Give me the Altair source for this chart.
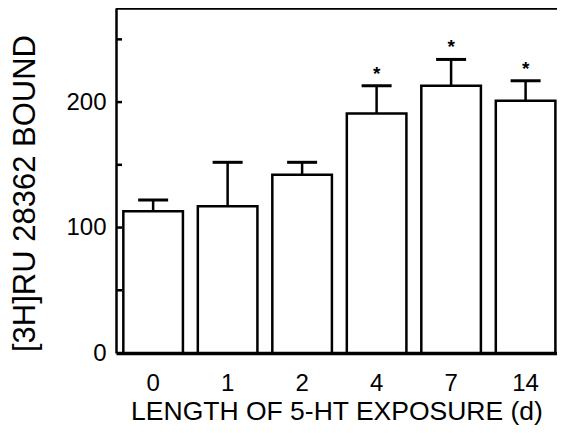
import altair as alt
import pandas as pd

# Data
days = ["0", "1", "2", "4", "7", "14"]
mean_bound = [113, 117, 142, 191, 213, 201]
sem_bound = [9, 35, 10, 22, 21, 16]
significant = [False, False, False, True, True, True]
minor_ticks = [50, 100, 150, 200, 250]
y_labels = [0, 100, 200]

df = pd.DataFrame({"day": days, "mean": mean_bound, "sem": sem_bound, "sig": significant})
df["upper"] = df["mean"] + df["sem"]
df["star"] = ["*" if s else "" for s in significant]
ticks_df = pd.DataFrame({"v": minor_ticks})

FONT = "Liberation Sans"
W, H = 441, 345
yscale = alt.Scale(domain=[0, 275], nice=False, zero=True)
xscale = alt.Scale(domain=days, paddingInner=0.2, paddingOuter=0.06, align=0.82)

x_axis = alt.Axis(
    title="LENGTH OF 5-HT EXPOSURE (d)", labelAngle=0, ticks=False, tickSize=0,
    labelPadding=18, labelFontSize=24, titleFontSize=26.5, titlePadding=3,
    domainWidth=3.5, domainColor="black", labelColor="black", titleColor="black",
    labelFont=FONT, titleFont=FONT, titleFontWeight="normal", grid=False,
)
y_axis = alt.Axis(
    title="[3H]RU 28362 BOUND", values=y_labels, ticks=False, tickSize=0,
    labelPadding=10, grid=False, labelFontSize=24, titleFontSize=31,
    labelFont=FONT, titleFont=FONT, titleFontWeight="normal",
    labelColor="black", titleColor="black", domainColor="black", domainWidth=2.5,
    titleX=-91, titleY=185, titleBaseline="middle", titleAlign="center",
)


def X():
    return alt.X("day:N", sort=days, scale=xscale, axis=x_axis)


def Y(field):
    return alt.Y(field, scale=yscale, axis=y_axis)


base = alt.Chart(df)

bars = base.mark_bar(fill="white", stroke="black", strokeWidth=2.5).encode(
    x=X(), y=Y("mean:Q"),
)

stems = base.mark_rule(color="black", strokeWidth=2.5).encode(
    x=X(), y=Y("mean:Q"), y2="upper:Q",
)

caps = base.mark_tick(color="black", size=30, thickness=3, opacity=1).encode(
    x=X(), y=Y("upper:Q"),
)

stars = base.transform_filter("datum.sig").mark_text(
    fontSize=19, fontWeight="bold", baseline="alphabetic", dy=-6, color="black", font=FONT
).encode(
    x=X(), y=Y("upper:Q"), text="star:N",
)

yticks = alt.Chart(ticks_df).mark_rule(color="black", strokeWidth=2.5).encode(
    y=Y("v:Q"),
    x=alt.value(0),
    x2=alt.value(6),
)

# top border of the frame (the right border lies outside the figure)
top_border = alt.Chart(ticks_df).mark_rule(color="black", strokeWidth=2.5).encode(
    y=alt.value(0), x=alt.value(0), x2=alt.value(W)
)

chart = (
    alt.layer(bars, stems, caps, stars, yticks, top_border)
    .properties(
        width=W, height=H,
        autosize=alt.AutoSizeParams(type="none"),
        padding={"left": 108, "top": 0, "right": 0, "bottom": 72},
        background="white",
    )
    .configure_view(stroke=None)
)

chart.save("out.html", embed_options={"renderer": "svg", "actions": False})
